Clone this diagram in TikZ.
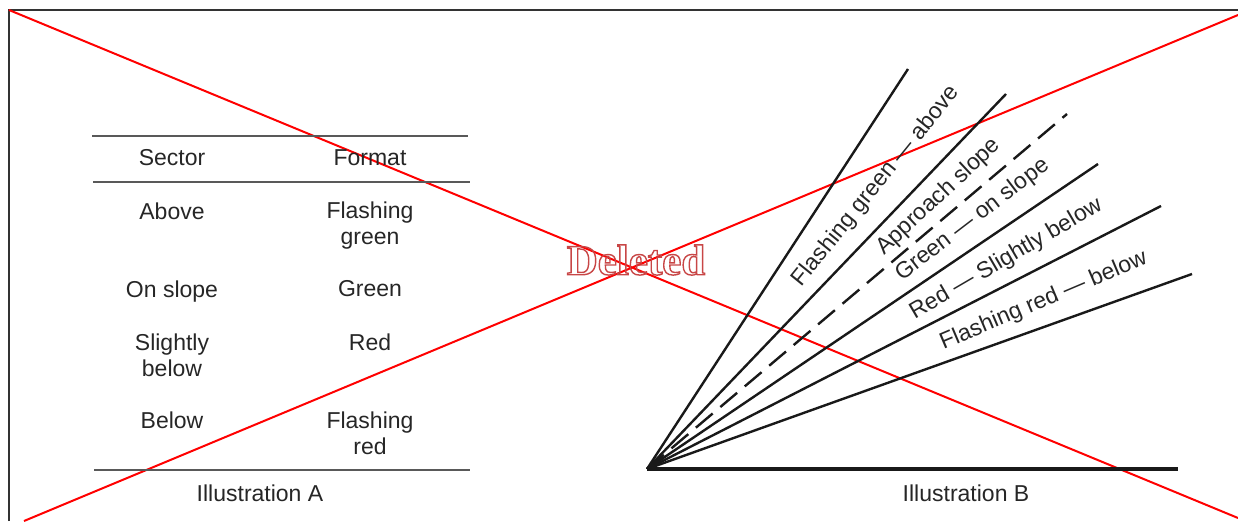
\documentclass[tikz,border=0pt]{standalone}
\usepackage{fontspec}
\setmainfont{Liberation Sans}
\newfontfamily\delfont{Liberation Serif}
\usetikzlibrary{calc,positioning}
\definecolor{delred}{RGB}{200,70,70}
\newcommand{\outlinetext}[1]{\special{pdf:literal direct 1 Tr 0.7 w}#1\special{pdf:literal direct 0 Tr}}

\begin{document}
\begin{tikzpicture}[x=0.5pt,y=0.5pt,
    txt/.style={font=\fontsize{11.5}{13}\selectfont,text=black!85,inner sep=0pt,align=center},
    ray/.style={draw,line width=1.2pt,black!90},
    rule/.style={line width=0.6pt,black!65}]
 \useasboundingbox (0,0) rectangle (1238,521);
 % frame and cross
 \draw[line width=0.8pt,black!80] (9,0) -- (9,511) -- (1238,511);
 \draw[red,line width=1pt] (9,511) -- (1238,3) (24,0) -- (1238,506);
 % illustration A
 \draw[rule] (92,385) -- (468,385);
 \draw[rule] (93,339) -- (470,339);
 \draw[rule] (94,51) -- (470,51);
 \node[txt] (SEC) at (172,363) {Sector};
 \node[txt] (FMT) at (370,363) {Format};
 \node[txt] (ABV) at (172,310) {Above};
 \node[txt] (FGR) at (370,295) {Flashing\\green};
 \node[txt] (ONS) at (172,229) {On slope};
 \node[txt] (GRN) at (370,232) {Green};
 \node[txt] (SLB) at (172,166) {Slightly\\below};
 \node[txt] (RED) at (370,179) {Red};
 \node[txt] (BLW) at (172,101) {Below};
 \node[txt] (FRD) at (370,88) {Flashing\\red};
 \node[txt] (ILA) at (260,28) {Illustration A};
 % illustration B
 \coordinate (O) at (647,52);
 \coordinate (BE) at (1178,52);
 \coordinate (R1) at (908,452);
 \coordinate (R2) at (1006,427);
 \coordinate (R3) at (1067,407);
 \coordinate (R4) at (1098,357);
 \coordinate (R5) at (1161,315);
 \coordinate (R6) at (1192,247);
 \draw[line width=1.6pt,black!90] (O) -- (BE);
 \path[ray] foreach \X in {1,2,4,5,6} {(O) edge (R\X)};
 \draw[ray,dash pattern=on 11pt off 5pt] (O) -- (R3);
 \node[txt,rotate=51] (LFG) at ($(O)+(51:364)$) {Flashing green — above};
 \node[txt,rotate=43] (LAS) at ($(O)+(43:399)$) {Approach slope};
 \node[txt,rotate=37.4] (LGS) at ($(O)+(37.4:410)$) {Green — on slope};
 \node[txt,rotate=30.3] (LRS) at ($(O)+(30.3:416)$) {Red — Slightly below};
 \node[txt,rotate=23] (LFR) at ($(O)+(23:431)$) {Flashing red — below};
 \node[txt] (ILB) at (966,28) {Illustration B};
 % stamp
 \node[font=\delfont\bfseries\fontsize{21.5}{24}\selectfont,text=delred,inner sep=0pt] (DEL) at (636,261) {\outlinetext{Deleted}};
\end{tikzpicture}
\end{document}
